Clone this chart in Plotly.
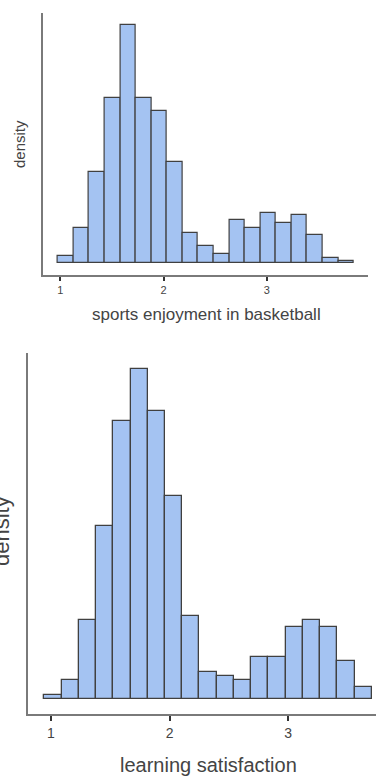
import plotly.graph_objects as go

# Histogram of sports enjoyment in basketball (density per bin)
sports_bin_start = 0.978
sports_bin_width = 0.1507
sports_density = [0.040, 0.186, 0.479, 0.861, 1.246, 0.861, 0.795, 0.531, 0.158, 0.090,
                  0.050, 0.224, 0.184, 0.264, 0.212, 0.251, 0.146, 0.028, 0.014]

# Histogram of learning satisfaction (density per bin)
learn_bin_start = 0.944
learn_bin_width = 0.1453
learn_density = [0.015, 0.070, 0.290, 0.632, 1.017, 1.208, 1.057, 0.743, 0.303, 0.098,
                 0.083, 0.070, 0.152, 0.152, 0.262, 0.288, 0.262, 0.137, 0.042]

tick_values = [1, 2, 3]
tick_labels = ["1", "2", "3"]

W, H = 376, 776
FILL = "#a4c3f2"
EDGE = "#404040"
AXIS = "#7a7a7a"
TEXT = "#444444"
FONT = "Liberation Sans, Arial, sans-serif"


def centers(start, width, n):
    return [start + width * (i + 0.5) for i in range(n)]


def px_x(p):
    return p / W


def px_y(p):
    return 1 - p / H


fig = go.Figure()
fig.add_trace(go.Bar(
    x=centers(sports_bin_start, sports_bin_width, len(sports_density)),
    y=sports_density, width=sports_bin_width,
    marker=dict(color=FILL, line=dict(color=EDGE, width=1.2)),
    xaxis="x", yaxis="y", showlegend=False, hoverinfo="skip"))
fig.add_trace(go.Bar(
    x=centers(learn_bin_start, learn_bin_width, len(learn_density)),
    y=learn_density, width=learn_bin_width,
    marker=dict(color=FILL, line=dict(color=EDGE, width=1.3)),
    xaxis="x2", yaxis="y2", showlegend=False, hoverinfo="skip"))

common_x = dict(showgrid=False, zeroline=False, showline=True, linecolor=AXIS,
                ticks="outside", tickvals=tick_values, ticktext=tick_labels,
                tickcolor="#333333", fixedrange=True)
common_y = dict(showgrid=False, zeroline=False, showline=True, linecolor=AXIS,
                showticklabels=False, ticks="", fixedrange=True)

fig.update_layout(
    width=W, height=H,
    margin=dict(l=0, r=0, t=0, b=0),
    paper_bgcolor="white", plot_bgcolor="white",
    bargap=0,
    xaxis=dict(**common_x, domain=[px_x(42.7), px_x(368)], range=[0.830, 3.979],
               anchor="y", linewidth=1.5, ticklen=4, tickwidth=1.5,
               tickfont=dict(family=FONT, size=11, color=TEXT)),
    yaxis=dict(**common_y, domain=[px_y(275), px_y(13)], range=[-0.061, 1.306],
               anchor="x", linewidth=1.5),
    xaxis2=dict(**common_x, domain=[px_x(28), 1.0], range=[0.806, 3.740],
                anchor="y2", linewidth=2, ticklen=5, tickwidth=1.8,
                tickfont=dict(family=FONT, size=14, color=TEXT)),
    yaxis2=dict(**common_y, domain=[px_y(714.3), px_y(353)], range=[-0.057, 1.268],
                anchor="x2", linewidth=2),
)

# Axis titles
fig.add_annotation(text="sports enjoyment in basketball", xref="paper", yref="paper",
                   x=px_x(206), y=px_y(314), xanchor="center", yanchor="middle",
                   showarrow=False, font=dict(family=FONT, size=17, color=TEXT))
fig.add_annotation(text="density", xref="paper", yref="paper",
                   x=px_x(19), y=px_y(144), xanchor="center", yanchor="middle",
                   textangle=-90, showarrow=False,
                   font=dict(family=FONT, size=15, color=TEXT))
fig.add_annotation(text="learning satisfaction", xref="paper", yref="paper",
                   x=px_x(208), y=px_y(765), xanchor="center", yanchor="middle",
                   showarrow=False, font=dict(family=FONT, size=20, color=TEXT))
fig.add_annotation(text="density", xref="paper", yref="paper",
                   x=px_x(1), y=px_y(531), xanchor="center", yanchor="middle",
                   textangle=-90, showarrow=False,
                   font=dict(family=FONT, size=22, color=TEXT))

fig.write_html("out.html")
